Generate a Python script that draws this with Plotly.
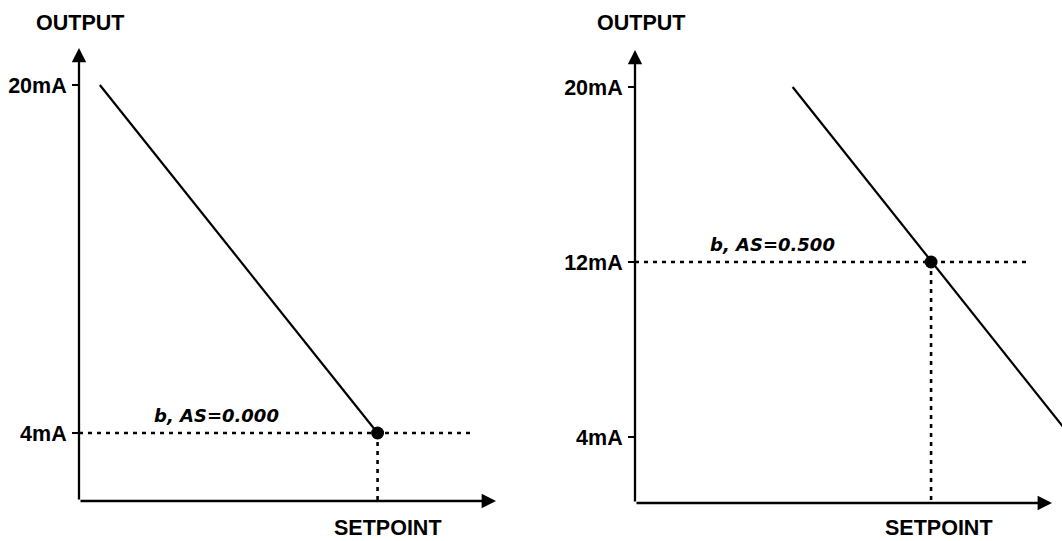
import plotly.graph_objects as go

W, H = 1062, 541

# ---------------- data ----------------
panels = ["left", "right"]
tick_values = [[20, 4], [20, 12, 4]]                 # mA
tick_labels = [["20mA", "4mA"], ["20mA", "12mA", "4mA"]]
line_x = [[5.0, 71.6], [37.8, 104.6]]                # setpoint units (0..100)
line_y = [[20, 4], [20, 4]]                          # mA
point_x = [71.6, 71.0]
point_y = [4, 12]
ref_line_end = [94, 94]
bias_labels = ["b, AS=0.000", "b, AS=0.500"]
bias_x = [17.4, 17.4]
y_title = "OUTPUT"
x_title = "SETPOINT"

# ---------------- layout anchors (pixels) ----------------
# x0: y-axis position, x1: x-axis arrow tip, xr: right edge of plotting area
anchors = [
    dict(x0=79, x1=496, xr=530, yb=501, yt=48, y20=85, y4=433, title_dx=1, set_dx=10),
    dict(x0=635, x1=1052, xr=1062, yb=503, yt=50, y20=87, y4=437, title_dx=6, set_dx=8),
]

fig = go.Figure()
layout = dict(
    width=W, height=H, autosize=False,
    margin=dict(l=0, r=0, t=0, b=0),
    paper_bgcolor="white", plot_bgcolor="white",
    showlegend=False,
)
annotations = []
bold_tick = dict(family="Liberation Sans, Arial, sans-serif", size=21.5, color="black", weight="bold")
bold_title = dict(family="Liberation Sans, Arial, sans-serif", size=21.5, color="black", weight="bold")

for i, a in enumerate(anchors):
    xs = "" if i == 0 else str(i + 1)
    xa, ya = "x" + xs, "y" + xs
    ppm = (a["y4"] - a["y20"]) / 16.0
    ymin = 4 - (a["yb"] - a["y4"]) / ppm
    ymax = 20 + (a["y20"] - a["yt"]) / ppm
    ppu = (a["x1"] - a["x0"]) / 100.0
    xmax = (a["xr"] - a["x0"]) / ppu

    layout["xaxis" + xs] = dict(
        domain=[a["x0"] / W, a["xr"] / W], range=[0, xmax],
        showgrid=False, zeroline=False, showline=False,
        showticklabels=False, ticks="", anchor=ya, fixedrange=True,
    )
    layout["yaxis" + xs] = dict(
        domain=[(H - a["yb"]) / H, (H - a["yt"]) / H], range=[ymin, ymax],
        showgrid=False, zeroline=False, showline=False,
        tickmode="array", tickvals=tick_values[i], ticktext=tick_labels[i],
        ticks="outside", ticklen=6, tickwidth=2, tickcolor="black",
        ticklabelstandoff=1,
        tickfont=bold_tick, anchor=xa, fixedrange=True,
    )

    # main characteristic line
    fig.add_trace(go.Scatter(
        x=line_x[i], y=line_y[i], mode="lines",
        line=dict(color="black", width=2.2), xaxis=xa, yaxis=ya,
        cliponaxis=False, hoverinfo="skip",
    ))
    # dashed reference lines
    fig.add_trace(go.Scatter(
        x=[0, ref_line_end[i]], y=[point_y[i], point_y[i]], mode="lines",
        line=dict(color="black", width=2.6, dash="4px,5px"), xaxis=xa, yaxis=ya,
        cliponaxis=False, hoverinfo="skip",
    ))
    fig.add_trace(go.Scatter(
        x=[point_x[i], point_x[i]], y=[point_y[i], ymin], mode="lines",
        line=dict(color="black", width=2.6, dash="4px,5px"), xaxis=xa, yaxis=ya,
        cliponaxis=False, hoverinfo="skip",
    ))
    # operating point
    fig.add_trace(go.Scatter(
        x=[point_x[i]], y=[point_y[i]], mode="markers",
        marker=dict(color="black", size=13, symbol="circle"),
        xaxis=xa, yaxis=ya, cliponaxis=False, hoverinfo="skip",
    ))

    # axis arrows
    annotations.append(dict(
        xref=xa, yref=ya, axref=xa, ayref=ya, x=0, y=ymax, ax=0, ay=ymin,
        text="", showarrow=True, arrowhead=2, arrowsize=1.25, arrowwidth=2.3,
        arrowcolor="black",
    ))
    annotations.append(dict(
        xref=xa, yref=ya, axref=xa, ayref=ya, x=100, y=ymin, ax=0, ay=ymin,
        text="", showarrow=True, arrowhead=2, arrowsize=1.25, arrowwidth=2.3,
        arrowcolor="black",
    ))
    # axis titles
    annotations.append(dict(
        xref=xa, yref="paper", x=0, y=(H - 23) / H, xshift=a["title_dx"],
        text=y_title, showarrow=False, xanchor="center", yanchor="middle",
        font=bold_title,
    ))
    annotations.append(dict(
        xref=xa, yref="paper", x=point_x[i], y=(H - 528) / H, xshift=a["set_dx"],
        text=x_title, showarrow=False, xanchor="center", yanchor="middle",
        font=bold_title,
    ))
    # bias label
    annotations.append(dict(
        xref=xa, yref=ya, x=bias_x[i], y=point_y[i], yshift=5,
        text=bias_labels[i], showarrow=False, xanchor="left", yanchor="bottom",
        font=dict(family="DejaVu Sans, sans-serif", size=18, color="black",
                  style="italic", weight="bold"),
    ))

layout["annotations"] = annotations
fig.update_layout(**layout)
fig.write_html("out.html", config={"displayModeBar": False},
               post_script="document.body.style.margin='0px';document.body.style.overflow='hidden';")
